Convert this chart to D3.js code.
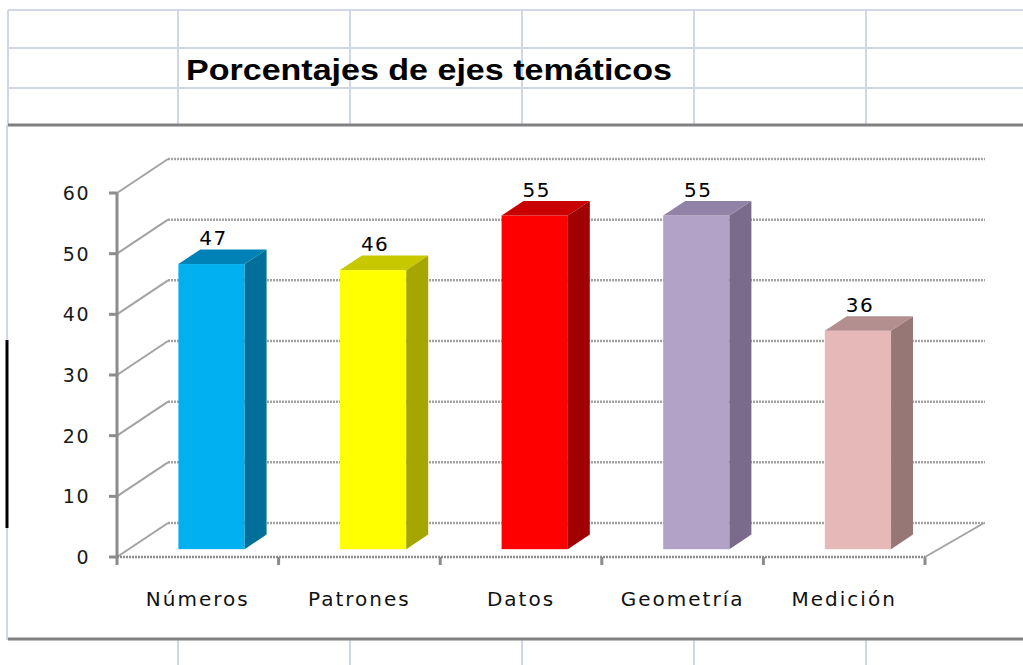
<!DOCTYPE html>
<html lang="es">
<head>
<meta charset="UTF-8">
<script src="https://d3js.org/d3.v7.min.js"></script>
<title>Porcentajes de ejes temáticos</title>
<style>
  body { margin: 0; background: #fff; }
  text { font-family: "DejaVu Sans", Verdana, sans-serif; }
</style>
</head>
<body>
<svg id="chart" width="1023" height="665"></svg>
<script>
// data
const categories = ["Números", "Patrones", "Datos", "Geometría", "Medición"];
const values = [47, 46, 55, 55, 36];
const yTicks = [0, 10, 20, 30, 40, 50, 60];
const frontColors = ["#00b0f0", "#ffff00", "#ff0000", "#b3a2c7", "#e6b9b8"];
const topColors = ["#0082b6", "#c8c800", "#c80000", "#9183a8", "#b38f8f"];
const sideColors = ["#006f9a", "#a6a600", "#a00000", "#7a6b8c", "#977676"];

const svg = d3.select("svg#chart");

// spreadsheet cells behind the chart
const cells = svg.append("g").attr("id", "cells")
    .attr("stroke", "#d0d7e5").attr("stroke-width", 2);
[10, 48, 88].forEach(y => {
  cells.append("line").attr("x1", 8).attr("x2", 1023).attr("y1", y).attr("y2", y);
});
[8, 178, 350, 522, 694, 866].forEach(x => {
  cells.append("line").attr("x1", x).attr("x2", x).attr("y1", 10).attr("y2", 125);
  if (x > 8) cells.append("line").attr("x1", x).attr("x2", x).attr("y1", 640).attr("y2", 665);
});
cells.append("line").attr("x1", 7).attr("x2", 7).attr("y1", 125).attr("y2", 640);

svg.append("text")
    .attr("x", 186).attr("y", 80)
    .attr("textLength", 486).attr("lengthAdjust", "spacingAndGlyphs")
    .style("font-family", "'Liberation Sans', Arial, sans-serif")
    .style("font-weight", "bold").style("font-size", "30px")
    .text("Porcentajes de ejes temáticos");

// chart area borders
svg.append("line").attr("x1", 8).attr("x2", 1023).attr("y1", 125).attr("y2", 125)
    .attr("stroke", "#808080").attr("stroke-width", 3);
svg.append("line").attr("x1", 8).attr("x2", 1023).attr("y1", 639).attr("y2", 639)
    .attr("stroke", "#808080").attr("stroke-width", 3);
svg.append("line").attr("x1", 7).attr("x2", 7).attr("y1", 340).attr("y2", 528)
    .attr("stroke", "#000").attr("stroke-width", 3);

// 3d layout
const depth = {dx: 51, dy: -34};
const x = d3.scaleBand().domain(categories).range([117, 925]).padding(0);
const y = d3.scaleLinear().domain([0, 60]).range([557, 193]);
const barFront = 0.23, barDepth = 0.43;
const barW = x.bandwidth() * 0.41;

const grid = svg.append("g").attr("id", "grid")
    .attr("stroke", "#a3a3a3").attr("stroke-width", 2).attr("fill", "none");

// back wall gridlines and left side wall diagonals
yTicks.forEach(t => {
  grid.append("line")
      .attr("x1", x.range()[0] + depth.dx).attr("x2", 985)
      .attr("y1", y(t) + depth.dy).attr("y2", y(t) + depth.dy)
      .attr("stroke-width", 2.5).attr("stroke-dasharray", "2,1");
  grid.append("line")
      .attr("x1", x.range()[0]).attr("y1", y(t))
      .attr("x2", x.range()[0] + depth.dx).attr("y2", y(t) + depth.dy);
});
// right floor edge
grid.append("line")
    .attr("x1", x.range()[1]).attr("y1", y(0))
    .attr("x2", x.range()[1] + depth.dx + 8).attr("y2", y(0) + depth.dy);

// y axis (front)
const axisG = svg.append("g").attr("stroke", "#8c8c8c").attr("stroke-width", 3);
axisG.append("line").attr("x1", 117).attr("x2", 117).attr("y1", y(0)).attr("y2", y(60));
yTicks.forEach(t => {
  axisG.append("line").attr("x1", 109).attr("x2", 117).attr("y1", y(t)).attr("y2", y(t));
});
axisG.append("line").attr("x1", x.range()[0]).attr("x2", x.range()[1])
    .attr("y1", y(0)).attr("y2", y(0)).attr("stroke-width", 2.5)
    .attr("stroke-dasharray", "2,1");
x.domain().concat([null]).forEach((c, i) => {
  const xx = x.range()[0] + i * x.bandwidth();
  axisG.append("line").attr("x1", xx).attr("x2", xx).attr("y1", y(0)).attr("y2", y(0) + 8);
});

svg.append("g").selectAll("text").data(yTicks).join("text")
    .attr("x", 90).attr("y", d => y(d)).attr("dy", "0.36em")
    .attr("text-anchor", "end").style("font-size", "19px").attr("fill", "#1a1a1a")
    .style("letter-spacing", "1.5px")
    .text(d => d);

// bars
const bars = svg.append("g").attr("id", "bars");
categories.forEach((c, i) => {
  const ox = depth.dx * barFront, oy = depth.dy * barFront;
  const bx = depth.dx * barDepth, by = depth.dy * barDepth;
  const x0 = x(c) + (x.bandwidth() - barW) / 2 + ox + 2;
  const x1 = x0 + barW;
  const yb = y(0) + oy;
  const yt = y(values[i]) + oy;
  const g = bars.append("g");
  g.append("rect").attr("x", x0).attr("y", yt).attr("width", barW).attr("height", yb - yt)
      .attr("fill", frontColors[i]);
  g.append("path")
      .attr("d", `M${x1},${yt}L${x1 + bx},${yt + by}L${x1 + bx},${yb + by}L${x1},${yb}Z`)
      .attr("fill", sideColors[i]);
  g.append("path")
      .attr("d", `M${x0},${yt}L${x0 + bx},${yt + by}L${x1 + bx},${yt + by}L${x1},${yt}Z`)
      .attr("fill", topColors[i]);
  g.append("text")
      .attr("x", x0 + barW / 2 + 2).attr("y", yt + by - 4)
      .attr("text-anchor", "middle").style("font-size", "20px")
      .style("letter-spacing", "1.5px")
      .text(values[i]);
});

// category labels
svg.append("g").selectAll("text").data(categories).join("text")
    .attr("x", d => x(d) + x.bandwidth() / 2)
    .attr("y", 606)
    .attr("text-anchor", "middle").style("font-size", "20px")
    .style("letter-spacing", "2px").attr("fill", "#111")
    .text(d => d);
</script>
</body>
</html>
